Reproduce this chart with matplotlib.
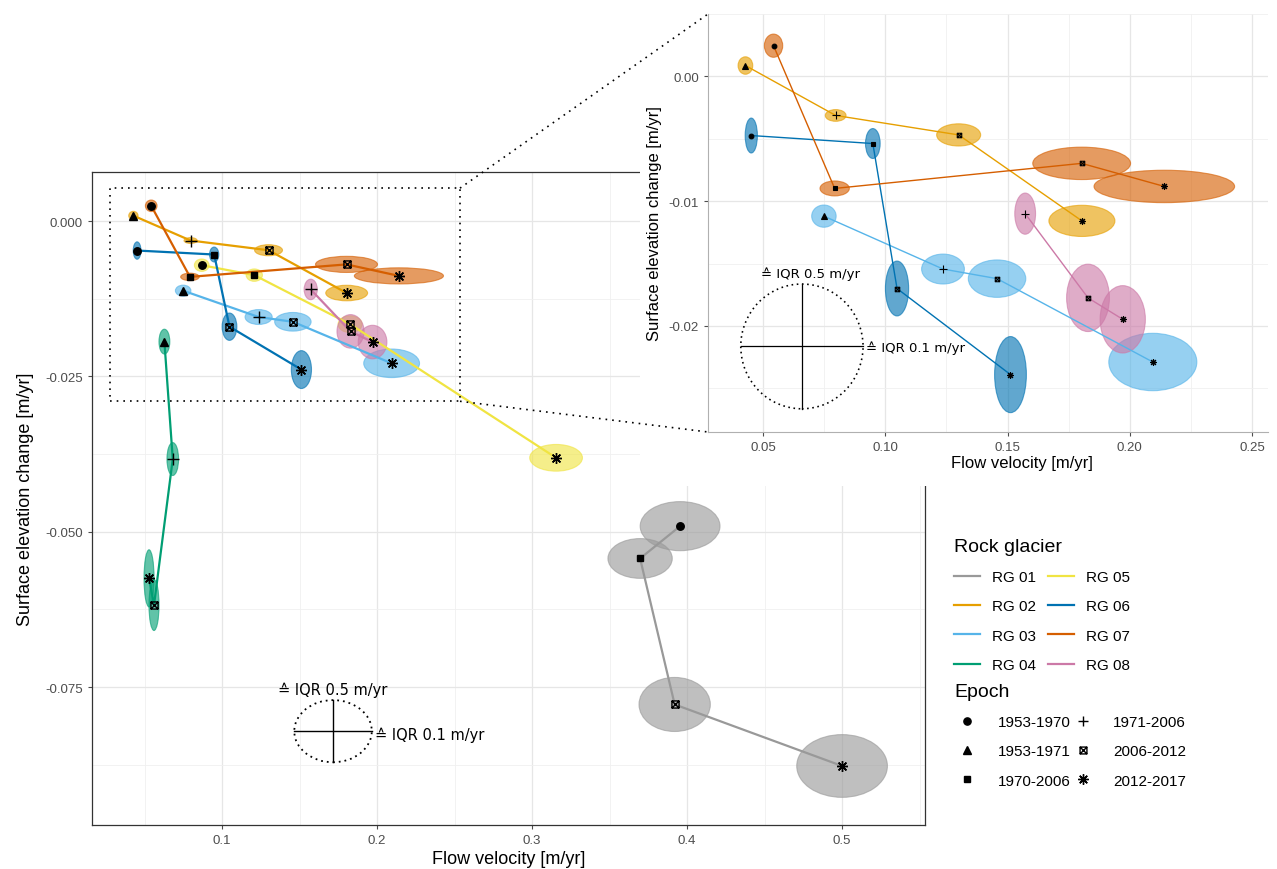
import matplotlib
matplotlib.use("Agg")
import matplotlib.pyplot as plt
from matplotlib.patches import Ellipse, Rectangle
from matplotlib.lines import Line2D
from matplotlib.path import Path
from matplotlib.ticker import MultipleLocator

# ---------------- data ----------------
glacier_names = ["RG 01", "RG 02", "RG 03", "RG 04", "RG 05", "RG 06", "RG 07", "RG 08"]
glacier_colors = ["#999999", "#E69F00", "#56B4E9", "#009E73",
                  "#F0E442", "#0072B2", "#D55E00", "#CC79A7"]
epoch_names = ["1953-1970", "1953-1971", "1970-2006", "1971-2006", "2006-2012", "2012-2017"]

glacier = ["RG 01"] * 4 + ["RG 02"] * 4 + ["RG 03"] * 4 + ["RG 04"] * 4 + \
          ["RG 05"] * 4 + ["RG 06"] * 4 + ["RG 07"] * 4 + ["RG 08"] * 3
epoch = ["1953-1970", "1970-2006", "2006-2012", "2012-2017",   # RG 01
         "1953-1971", "1971-2006", "2006-2012", "2012-2017",   # RG 02
         "1953-1971", "1971-2006", "2006-2012", "2012-2017",   # RG 03
         "1953-1971", "1971-2006", "2006-2012", "2012-2017",   # RG 04
         "1953-1970", "1970-2006", "2006-2012", "2012-2017",   # RG 05
         "1953-1970", "1970-2006", "2006-2012", "2012-2017",   # RG 06
         "1953-1970", "1970-2006", "2006-2012", "2012-2017",   # RG 07
         "1971-2006", "2006-2012", "2012-2017"]                # RG 08
velocity = [0.3955, 0.3697, 0.3920, 0.5000,
            0.0428, 0.0797, 0.1300, 0.1804,
            0.0749, 0.1236, 0.1457, 0.2094,
            0.0628, 0.0682, 0.0561, 0.0529,
            0.0869, 0.1208, 0.1826, 0.3155,
            0.0452, 0.0949, 0.1048, 0.1512,
            0.0543, 0.0793, 0.1803, 0.2141,
            0.1572, 0.1829, 0.1971]
elev_change = [-0.0491, -0.0543, -0.0778, -0.0877,
               0.00087, -0.00313, -0.00469, -0.01158,
               -0.0112, -0.01544, -0.01621, -0.02289,
               -0.0194, -0.0383, -0.0618, -0.0575,
               -0.0071, -0.0087, -0.0166, -0.0381,
               -0.00474, -0.00538, -0.0170, -0.0239,
               0.00246, -0.00898, -0.00697, -0.00882,
               -0.0110, -0.01775, -0.01947]
iqr_velocity = [0.103, 0.083, 0.092, 0.117,
                0.012, 0.017, 0.036, 0.054,
                0.020, 0.035, 0.047, 0.072,
                0.014, 0.015, 0.013, 0.013,
                0.019, 0.021, 0.031, 0.068,
                0.010, 0.012, 0.019, 0.026,
                0.015, 0.024, 0.080, 0.115,
                0.017, 0.035, 0.037]
iqr_elev = [0.395, 0.32, 0.435, 0.505,
            0.07, 0.047, 0.089, 0.125,
            0.089, 0.12, 0.15, 0.23,
            0.20, 0.265, 0.41, 0.46,
            0.10, 0.10, 0.135, 0.215,
            0.14, 0.12, 0.22, 0.305,
            0.093, 0.06, 0.13, 0.13,
            0.165, 0.27, 0.27]
inset_glaciers = ["RG 02", "RG 03", "RG 06", "RG 07", "RG 08"]

# ellipse scale (IQR 0.1 m/yr velocity <-> 0.05 axis units, IQR 0.5 m/yr elevation <-> 0.01)
SX = 0.5
SY = 0.02

# ---------------- styling ----------------
W, H = 1277, 870
fig = plt.figure(figsize=(W / 100, H / 100), dpi=100)
FONT = "Liberation Sans"
plt.rcParams["font.family"] = [FONT, "DejaVu Sans"]

boxed = Path([(-1, -1), (1, -1), (1, 1), (-1, 1), (-1, -1),
              (-1, -1), (1, 1), (-1, 1), (1, -1)],
             [Path.MOVETO, Path.LINETO, Path.LINETO, Path.LINETO, Path.CLOSEPOLY,
              Path.MOVETO, Path.LINETO, Path.MOVETO, Path.LINETO])
epoch_markers = {"1953-1970": "o", "1953-1971": "^", "1970-2006": "s",
                 "1971-2006": "+", "2006-2012": boxed, "2012-2017": (8, 2, 0)}
epoch_size = {"1953-1970": 1.0, "1953-1971": 1.1, "1970-2006": 0.9,
              "1971-2006": 1.5, "2006-2012": 0.95, "2012-2017": 1.45}
col_of = dict(zip(glacier_names, glacier_colors))


def style_axes(ax, tick_size):
    ax.set_facecolor("white")
    ax.grid(True, which="major", color="#e6e6e6", lw=0.9, zorder=0)
    ax.grid(True, which="minor", color="#f0f0f0", lw=0.6, zorder=0)
    ax.set_axisbelow(True)
    ax.tick_params(axis="both", which="major", labelsize=tick_size, colors="#4d4d4d",
                   length=3, width=0.8, labelcolor="#4d4d4d")
    ax.tick_params(axis="both", which="minor", length=0)
    for lab in ax.get_xticklabels() + ax.get_yticklabels():
        lab.set_fontfamily(FONT)


def draw(ax, glist, ms, lw, mew):
    for g in glist:
        idx = [i for i, gg in enumerate(glacier) if gg == g]
        c = col_of[g]
        for i in idx:
            e = Ellipse((velocity[i], elev_change[i]), iqr_velocity[i] * SX, iqr_elev[i] * SY,
                        facecolor=c, alpha=0.62, edgecolor=c, lw=0.8, zorder=2)
            ax.add_patch(e)
    for g in glist:
        idx = [i for i, gg in enumerate(glacier) if gg == g]
        ax.plot([velocity[i] for i in idx], [elev_change[i] for i in idx],
                color=col_of[g], lw=lw, zorder=3, solid_capstyle="butt")
    for g in glist:
        idx = [i for i, gg in enumerate(glacier) if gg == g]
        for i in idx:
            m = epoch_markers[epoch[i]]
            filled = epoch[i] in ("1953-1970", "1953-1971", "1970-2006")
            ax.plot(velocity[i], elev_change[i], marker=m, ms=ms * epoch_size[epoch[i]],
                    color="black", mfc="black" if filled else "none", mec="black",
                    mew=mew, ls="none", zorder=4)


def scale_legend(ax, cx, cy, tx1, ty1, tx2, ty2, fs, lw):
    w, h = 0.1 * SX, 0.5 * SY
    ax.add_patch(Ellipse((cx, cy), w, h, facecolor="none", edgecolor="black",
                         lw=lw * 1.3, ls=(0, (1, 2.2)), zorder=5))
    ax.plot([cx - w / 2, cx + w / 2], [cy, cy], color="black", lw=lw, zorder=5)
    ax.plot([cx, cx], [cy - h / 2, cy + h / 2], color="black", lw=lw, zorder=5)
    ax.text(tx1, ty1, "\u2259 IQR 0.5 m/yr", fontsize=fs, family="DejaVu Sans",
            va="center", ha="left", zorder=6)
    ax.text(tx2, ty2, "\u2259 IQR 0.1 m/yr", fontsize=fs, family="DejaVu Sans",
            va="center", ha="left", zorder=6)


# ---------------- main panel ----------------
ax = fig.add_axes([92 / W, 1 - 826 / H, (925 - 92) / W, (826 - 173) / H])
ax.set_xlim(0.0161, 0.5535)
ax.set_ylim(-0.0972, 0.0079)
ax.xaxis.set_major_locator(MultipleLocator(0.1))
ax.xaxis.set_minor_locator(MultipleLocator(0.05))
ax.yaxis.set_major_locator(MultipleLocator(0.025))
ax.yaxis.set_minor_locator(MultipleLocator(0.0125))
ax.xaxis.set_major_formatter(plt.FuncFormatter(lambda v, p: f"{v:.1f}"))
ax.yaxis.set_major_formatter(plt.FuncFormatter(lambda v, p: f"{v:.3f}" if abs(v) > 1e-9 else "0.000"))
style_axes(ax, 9.5)
for s in ax.spines.values():
    s.set_color("#333333")
    s.set_linewidth(0.9)
ax.set_xlabel("Flow velocity [m/yr]", fontsize=13, family=FONT, labelpad=3)
ax.set_ylabel("Surface elevation change [m/yr]", fontsize=13, family=FONT, labelpad=8)
draw(ax, glacier_names, ms=5.4, lw=1.6, mew=1.0)
scale_legend(ax, 0.1716, -0.0821, 0.136, -0.0754, 0.1987, -0.0826, 10.5, 1.0)

# inset rectangle
IX = (0.0275, 0.2565)
IY = (-0.0285, 0.0050)
RX = (0.0275, 0.2535)
RY = (-0.0290, 0.0053)
ax.add_patch(Rectangle((RX[0], RY[0]), RX[1] - RX[0], RY[1] - RY[0], facecolor="none",
                       edgecolor="black", lw=1.2, ls=(0, (1, 3)), zorder=6))

# white background behind the inset plot
fig.patches.append(Rectangle((640 / W, 1 - 487 / H), 1 - 640 / W, 487 / H,
                             transform=fig.transFigure, facecolor="white",
                             edgecolor="none", zorder=2))

# ---------------- inset ----------------
axi = fig.add_axes([708 / W, 1 - 433 / H, (1268 - 708) / W, (433 - 15) / H], zorder=3)
axi.set_xlim(*IX)
axi.set_ylim(*IY)
axi.xaxis.set_major_locator(MultipleLocator(0.05))
axi.xaxis.set_minor_locator(MultipleLocator(0.025))
axi.yaxis.set_major_locator(MultipleLocator(0.01))
axi.yaxis.set_minor_locator(MultipleLocator(0.005))
axi.xaxis.set_major_formatter(plt.FuncFormatter(lambda v, p: f"{v:.2f}"))
axi.yaxis.set_major_formatter(plt.FuncFormatter(lambda v, p: f"{v:.2f}" if abs(v) > 1e-9 else "0.00"))
style_axes(axi, 9.5)
for k, s in axi.spines.items():
    s.set_color("#b0b0b0")
    s.set_linewidth(0.8)
axi.spines["top"].set_visible(False)
axi.spines["right"].set_visible(False)
axi.set_xlabel("Flow velocity [m/yr]", fontsize=12, family=FONT, labelpad=3)
axi.xaxis.set_label_coords(0.56, -0.055)
axi.set_ylabel("Surface elevation change [m/yr]", fontsize=12, family=FONT, labelpad=5)
draw(axi, inset_glaciers, ms=3.4, lw=1.0, mew=0.8)
scale_legend(axi, 0.0659, -0.02164, 0.0490, -0.0158, 0.0923, -0.0217, 9.5, 0.9)

# connector lines (rectangle corners -> inset corners)
fig.canvas.draw()
to_fig = fig.transFigure.inverted()
for (dx, dy), (fx, fy) in [((RX[1], RY[1]), (708 / W, 1 - 15 / H)),
                           ((RX[1], RY[0]), (708 / W, 1 - 433 / H))]:
    p = to_fig.transform(ax.transData.transform((dx, dy)))
    fig.add_artist(Line2D([p[0], fx], [p[1], fy], transform=fig.transFigure,
                          color="black", lw=1.2, ls=(0, (1, 3)), zorder=10))

# ---------------- legends ----------------
rg_handles = [Line2D([], [], color=c, lw=1.6) for c in glacier_colors]
leg1 = fig.legend(rg_handles, glacier_names, ncol=2, loc="upper left",
                  bbox_to_anchor=(940 / W, 1 - 525 / H), frameon=False,
                  title="Rock glacier", prop={"family": FONT, "size": 11},
                  title_fontproperties={"family": FONT, "size": 14},
                  alignment="left", handlelength=1.7, columnspacing=0.8,
                  labelspacing=1.0, handletextpad=0.8)
ep_handles = []
for e in epoch_names:
    filled = e in ("1953-1970", "1953-1971", "1970-2006")
    ep_handles.append(Line2D([], [], ls="none", marker=epoch_markers[e],
                             ms=5.2 * epoch_size[e], color="black",
                             mfc="black" if filled else "none", mew=1.0))
leg2 = fig.legend(ep_handles, epoch_names, ncol=2, loc="upper left",
                  bbox_to_anchor=(941 / W, 1 - 670 / H), frameon=False,
                  title="Epoch", prop={"family": FONT, "size": 11},
                  title_fontproperties={"family": FONT, "size": 14},
                  alignment="left", handlelength=1.6, columnspacing=0.0,
                  labelspacing=1.0, handletextpad=1.2)

fig.savefig("out.png", dpi=100)
